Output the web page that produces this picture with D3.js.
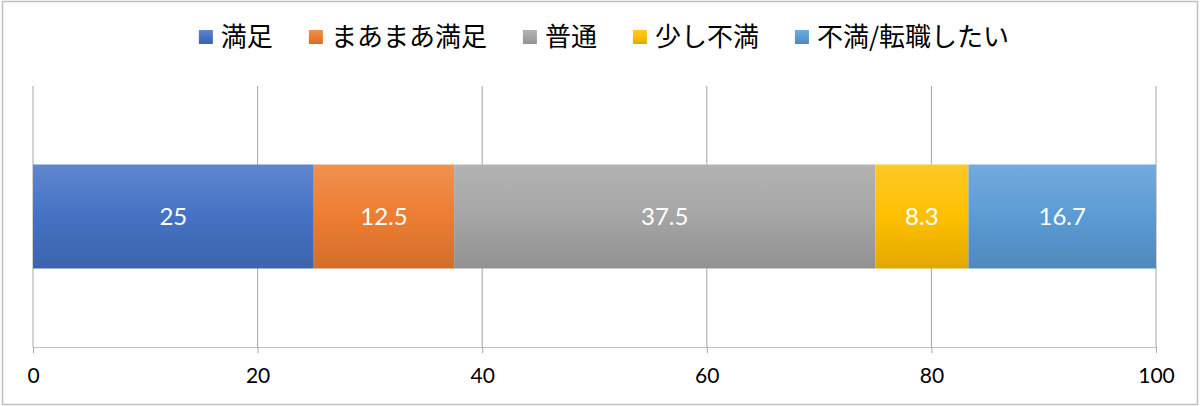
<!DOCTYPE html>
<html>
<head>
<meta charset="utf-8">
<script src="https://cdn.jsdelivr.net/npm/d3@7"></script>
<style>
  body { margin: 0; background: #fff; }
  svg { display: block; }
</style>
</head>
<body>
<svg id="drawing_region"></svg>
<script>
// data
const categories = ['満足', 'まあまあ満足', '普通', '少し不満', '不満/転職したい'];
const values = [25, 12.5, 37.5, 8.3, 16.7];
const colors = ['#4472C4', '#ED7D31', '#A5A5A5', '#FFC000', '#5B9BD5'];
const ticks = [0, 20, 40, 60, 80, 100];

const width = 1200, height = 406;
const margin = { left: 33, right: 44, top: 86, bottom: 59 };

const svg = d3.select('#drawing_region')
    .attr('width', width)
    .attr('height', height);

// outer frame
svg.append('rect')
    .attr('x', 2.5).attr('y', 1.5)
    .attr('width', width - 5).attr('height', height - 3)
    .attr('fill', '#fff')
    .attr('stroke', '#bfbfbf')
    .attr('stroke-width', 1.5);

// gradients, lighter at top like the office chart style
const defs = svg.append('defs');
colors.forEach((c, i) => {
    const g = defs.append('linearGradient')
        .attr('id', 'grad' + i)
        .attr('x1', 0).attr('y1', 0).attr('x2', 0).attr('y2', 1);
    g.append('stop').attr('offset', '0%').attr('stop-color', d3.interpolateRgb(c, '#fff')(0.15));
    g.append('stop').attr('offset', '50%').attr('stop-color', c);
    g.append('stop').attr('offset', '100%').attr('stop-color', d3.interpolateRgb(c, '#000')(0.12));
});

const x = d3.scaleLinear()
    .domain([0, 100])
    .range([margin.left, width - margin.right]);

const y = d3.scaleBand()
    .domain(['row'])
    .range([margin.top, height - margin.bottom])
    .paddingInner(0)
    .paddingOuter(0.755);

// gridlines
svg.append('g')
    .selectAll('line')
    .data(ticks)
    .enter()
    .append('line')
    .attr('x1', d => x(d)).attr('x2', d => x(d))
    .attr('y1', margin.top).attr('y2', height - margin.bottom)
    .attr('stroke', '#a6a6a6')
    .attr('stroke-width', 1);

// axis
const axis = svg.append('g')
    .attr('transform', `translate(0, ${height - margin.bottom})`)
    .call(d3.axisBottom(x).tickValues(ticks).tickSize(6).tickPadding(15).tickFormat(d3.format('d')));
axis.select('.domain').attr('stroke', '#bfbfbf');
axis.selectAll('.tick line').attr('stroke', '#a6a6a6');
axis.selectAll('.tick text')
    .attr('fill', '#000')
    .style('font-family', 'Lato, "Open Sans", sans-serif')
    .style('font-size', '21px');

// stack the single row
const stackData = [{}];
categories.forEach((c, i) => { stackData[0][c] = values[i]; });
const series = d3.stack().keys(categories)(stackData);

const segs = svg.append('g')
    .selectAll('g')
    .data(series)
    .enter()
    .append('g');

segs.append('rect')
    .attr('x', d => x(d[0][0]))
    .attr('width', d => x(d[0][1]) - x(d[0][0]))
    .attr('y', y('row'))
    .attr('height', y.bandwidth())
    .attr('fill', (d, i) => `url(#grad${i})`);

segs.append('text')
    .attr('x', d => (x(d[0][0]) + x(d[0][1])) / 2)
    .attr('y', y('row') + y.bandwidth() / 2)
    .attr('dy', '0.35em')
    .attr('text-anchor', 'middle')
    .attr('fill', '#fff')
    .style('font-family', 'Lato, "Open Sans", sans-serif')
    .style('font-size', '24px')
    .text((d, i) => values[i]);

// legend
const legend = svg.append('g');
const items = legend.selectAll('g')
    .data(categories)
    .enter()
    .append('g');
items.append('rect')
    .attr('width', 14).attr('height', 14)
    .attr('y', -7)
    .attr('fill', (d, i) => `url(#grad${i})`);
items.append('text')
    .attr('x', 22)
    .attr('dy', '0.35em')
    .attr('fill', '#000')
    .style('font-family', '"Noto Sans CJK JP", sans-serif')
    .style('font-size', '26px')
    .text(d => d);

const gap = 36;
let cursor = 0;
items.each(function() {
    const w = d3.select(this).select('text').node().getComputedTextLength() + 22;
    d3.select(this).attr('transform', `translate(${cursor}, 0)`);
    cursor += w + gap;
});
const total = cursor - gap;
legend.attr('transform', `translate(${(width - total) / 2 + 4}, 37)`);
</script>
</body>
</html>
